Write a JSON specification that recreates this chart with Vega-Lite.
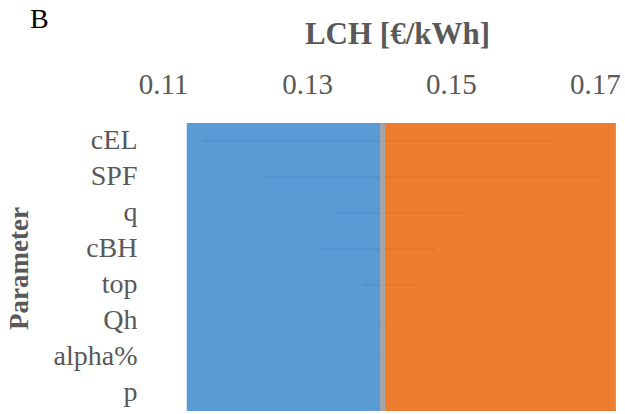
{
  "$schema": "https://vega.github.io/schema/vega-lite/v6.json",
  "width": 466,
  "height": 288,
  "autosize": {"type": "none"},
  "padding": {"left": 150, "top": 123, "right": 9, "bottom": 3},
  "background": "white",
  "title": {
    "text": "B",
    "anchor": "start",
    "frame": "group",
    "dx": -120,
    "dy": 20,
    "font": "Liberation Serif",
    "fontSize": 28,
    "fontWeight": "normal",
    "color": "#000000"
  },
  "datasets": {
    "params": [
      {"param": "cEL", "low": 0.1156, "base": 0.1405, "high": 0.1640},
      {"param": "SPF", "low": 0.1242, "base": 0.1405, "high": 0.1707},
      {"param": "q", "low": 0.1342, "base": 0.1405, "high": 0.1522},
      {"param": "cBH", "low": 0.1318, "base": 0.1405, "high": 0.1478},
      {"param": "top", "low": 0.1378, "base": 0.1405, "high": 0.1453},
      {"param": "Qh", "low": 0.1398, "base": 0.1405, "high": 0.1412},
      {"param": "alpha%", "low": 0.1401, "base": 0.1405, "high": 0.1409},
      {"param": "p", "low": 0.1403, "base": 0.1405, "high": 0.1407}
    ],
    "extent": [
      {"start": 0.1133, "base": 0.1405, "end": 0.1729}
    ]
  },
  "config": {
    "view": {"stroke": null},
    "font": "Liberation Serif"
  },
  "layer": [
    {
      "data": {"name": "extent"},
      "mark": {"type": "rect", "color": "#5B9BD5"},
      "encoding": {
        "x": {"field": "start", "type": "quantitative"},
        "x2": {"field": "base"}
      }
    },
    {
      "data": {"name": "extent"},
      "mark": {"type": "rect", "color": "#ED7D31"},
      "encoding": {
        "x": {"field": "base", "type": "quantitative"},
        "x2": {"field": "end"}
      }
    },
    {
      "data": {"name": "params"},
      "mark": {"type": "rule", "color": "#4A86C5", "strokeWidth": 2, "opacity": 0.4},
      "encoding": {
        "y": {"field": "param", "type": "nominal", "sort": ["cEL", "SPF", "q", "cBH", "top", "Qh", "alpha%", "p"]},
        "x": {"field": "low", "type": "quantitative"},
        "x2": {"field": "base"}
      }
    },
    {
      "data": {"name": "params"},
      "mark": {"type": "rule", "color": "#E06A1E", "strokeWidth": 2, "opacity": 0.4},
      "encoding": {
        "y": {"field": "param", "type": "nominal", "sort": ["cEL", "SPF", "q", "cBH", "top", "Qh", "alpha%", "p"]},
        "x": {"field": "base", "type": "quantitative"},
        "x2": {"field": "high"}
      }
    },
    {
      "data": {"name": "params"},
      "mark": {"type": "tick", "opacity": 0},
      "encoding": {
        "y": {
          "field": "param",
          "type": "nominal",
          "sort": ["cEL", "SPF", "q", "cBH", "top", "Qh", "alpha%", "p"],
          "scale": {"paddingInner": 0, "paddingOuter": 0},
          "axis": {
            "title": "Parameter",
            "titleFont": "Liberation Serif",
            "titleFontSize": 27,
            "titleFontWeight": "bold",
            "titleColor": "#595959",
            "titleAngle": -90,
            "titleAlign": "center",
            "titleBaseline": "alphabetic",
            "titleX": -123,
            "titleY": 145,
            "labelFont": "Liberation Serif",
            "labelFontSize": 28,
            "labelColor": "#595959",
            "labelPadding": 13,
            "domain": false,
            "ticks": false,
            "grid": false
          }
        },
        "x": {
          "field": "low",
          "type": "quantitative",
          "scale": {"domain": [0.108194, 0.172917], "nice": false, "zero": false},
          "axis": {
            "orient": "top",
            "title": "LCH [€/kWh]",
            "titleFont": "Liberation Serif",
            "titleFontSize": 31,
            "titleFontWeight": "bold",
            "titleColor": "#595959",
            "titleAlign": "center",
            "titleBaseline": "alphabetic",
            "titleX": 247,
            "titleY": -80,
            "values": [0.11, 0.13, 0.15, 0.17],
            "format": ".2f",
            "labelFont": "Liberation Serif",
            "labelFontSize": 29,
            "labelColor": "#595959",
            "labelPadding": 24,
            "labelFlush": false,
            "domain": false,
            "ticks": false,
            "grid": false
          }
        }
      }
    },
    {
      "data": {"name": "extent"},
      "mark": {"type": "rule", "color": "#A5A5A5", "strokeWidth": 5},
      "encoding": {
        "x": {"field": "base", "type": "quantitative"}
      }
    }
  ]
}
